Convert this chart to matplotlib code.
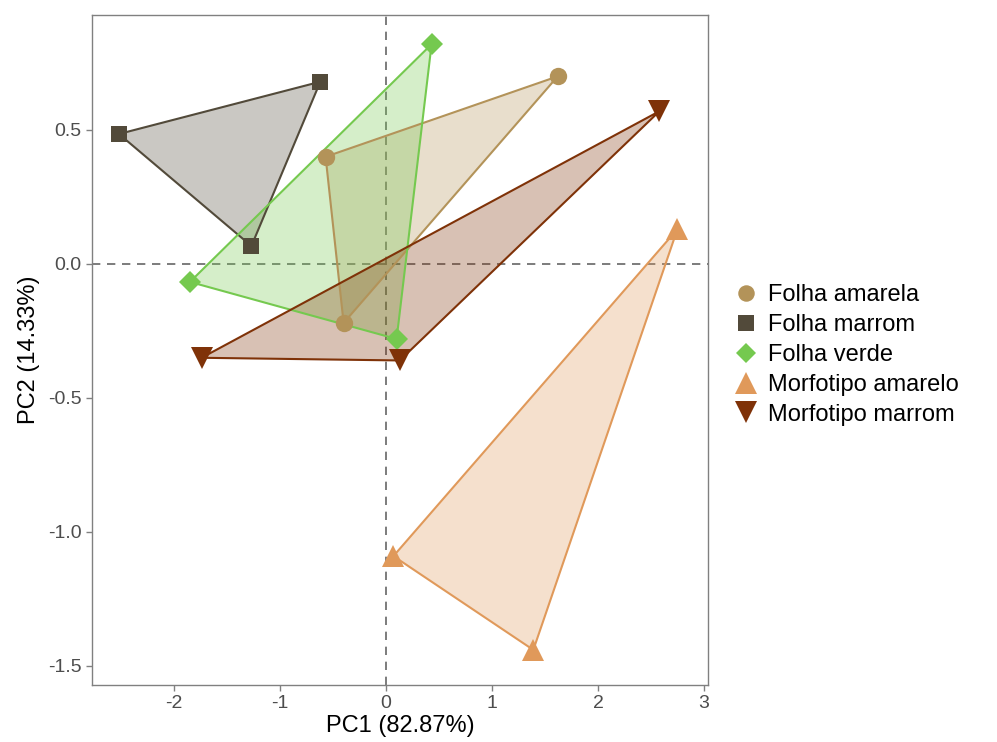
import matplotlib.pyplot as plt
from matplotlib.patches import Polygon

plt.rcParams['font.family'] = ['Liberation Sans', 'DejaVu Sans']

# PCA scores per group
groups = ["Folha amarela", "Folha marrom", "Folha verde",
          "Morfotipo amarelo", "Morfotipo marrom"]
pc1 = {
    "Folha amarela": [1.62, -0.57, -0.40],
    "Folha marrom": [-0.62, -2.52, -1.27],
    "Folha verde": [0.43, -1.85, 0.10],
    "Morfotipo amarelo": [2.75, 0.07, 1.39],
    "Morfotipo marrom": [2.58, -1.74, 0.13],
}
pc2 = {
    "Folha amarela": [0.70, 0.40, -0.22],
    "Folha marrom": [0.68, 0.485, 0.067],
    "Folha verde": [0.82, -0.067, -0.28],
    "Morfotipo amarelo": [0.13, -1.09, -1.44],
    "Morfotipo marrom": [0.57, -0.35, -0.36],
}
colors = ["#B39359", "#524A3A", "#75C94F", "#E0995A", "#7F3208"]
markers = ["o", "s", "D", "^", "v"]
msizes = [12.5, 12, 11, 16, 16]

fig = plt.figure(figsize=(9.97, 7.42), dpi=100)
ax = fig.add_axes([0.0923, 0.0768, 0.6178, 0.9030])

ax.axhline(0, color="#666666", linestyle=(0, (5, 4)), linewidth=1.2, zorder=1)
ax.axvline(0, color="#666666", linestyle=(0, (5, 4)), linewidth=1.2, zorder=1)

# Hulls
for g, c in zip(groups, colors):
    pts = list(zip(pc1[g], pc2[g]))
    ax.add_patch(Polygon(pts, closed=True, facecolor=c, alpha=0.3,
                         edgecolor="none", zorder=2))
    ax.add_patch(Polygon(pts, closed=True, facecolor="none",
                         edgecolor=c, linewidth=1.5, zorder=3))

# Points
for g, c, m, s in zip(groups, colors, markers, msizes):
    ax.plot(pc1[g], pc2[g], linestyle="none", marker=m, color=c,
            markersize=s, markeredgewidth=0, label=g, zorder=4)

ax.set_xlim(-2.774, 3.038)
ax.set_ylim(-1.571, 0.929)
ax.set_xticks([-2, -1, 0, 1, 2, 3])
ax.set_xticklabels(["-2", "-1", "0", "1", "2", "3"])
ax.set_yticks([-1.5, -1.0, -0.5, 0.0, 0.5])
ax.set_yticklabels(["-1.5", "-1.0", "-0.5", "0.0", "0.5"])

for sp in ax.spines.values():
    sp.set_color("#808080")
    sp.set_linewidth(1.0)
ax.tick_params(colors="#808080", labelcolor="#4D4D4D", labelsize=14,
               length=4, width=1.0)

ax.set_xlabel("PC1 (82.87%)", fontsize=17, color="black", labelpad=2)
ax.set_ylabel("PC2 (14.33%)", fontsize=17, color="black", labelpad=6)

ax.legend(loc="center left", bbox_to_anchor=(1.005, 0.4925), frameon=False,
          fontsize=17, handletextpad=0.3, labelspacing=0.33,
          handlelength=1.2, markerscale=0.95)

fig.savefig("out.png", dpi=100)
